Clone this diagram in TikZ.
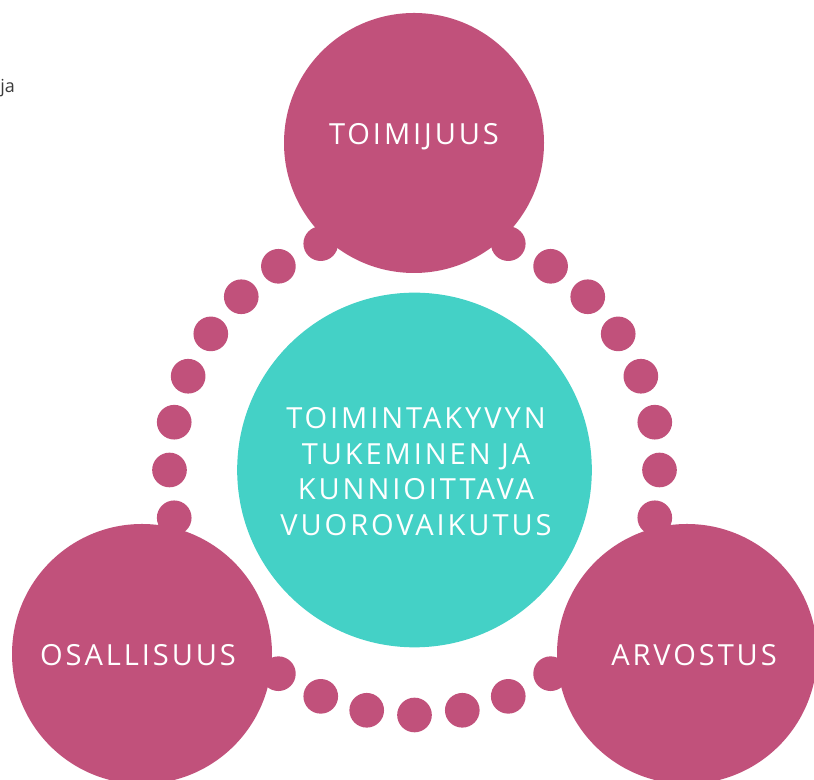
\documentclass[tikz,border=0pt]{standalone}
\usepackage{fontspec}
\setmainfont{Open Sans}
\newfontfamily\widefont[LetterSpace=10]{Open Sans}
\usetikzlibrary{positioning}
\definecolor{rosepink}{HTML}{C1517B}
\definecolor{aqua}{HTML}{44D1C6}
\definecolor{notegray}{HTML}{3A3A3A}
\tikzset{%
	theme circle/.style={
		circle,
		fill=rosepink,
		minimum size=195pt,
		inner sep=0pt
	},
	core circle/.style={
		circle,
		fill=aqua,
		minimum size=266pt,
		inner sep=0pt
	},
	bead/.style={
		circle,
		fill=rosepink,
		minimum size=26pt,
		inner sep=0pt
	},
	theme text/.style={
		text=white,
		inner sep=0pt,
		align=center,
		font=\widefont\fontsize{21.8}{26.6}\selectfont
	},
}

\begin{document}
\begin{tikzpicture}[x=0.75pt,y=0.75pt]
	\clip (0,0) rectangle (814,780);
	\useasboundingbox (0,0) rectangle (814,780);
	
	% centre of the ring
	\coordinate (hub) at (414.5,310);
	
	% beads on the left
	\foreach \a [count=\i] in {112.5,123.75,135,146.25,157.5,168.75,180,191.25}
		\path (hub) ++(\a:245) node[bead] (l\i) {};
	% beads at the bottom
	\foreach \a [count=\i] in {236.25,247.5,258.75,270,281.25,292.5,303.75}
		\path (hub) ++(\a:245) node[bead] (b\i) {};
	% beads on the right
	\foreach \a [count=\i] in {-11.25,0,11.25,22.5,33.75,45,56.25,67.5}
		\path (hub) ++(\a:245) node[bead] (r\i) {};
	
	% the three themes
	\node[theme circle] (top) at (414,637) {};
	\node[theme circle] (left) at (142,126) {};
	\node[theme circle] (right) at (687,126) {};
	
	% the core
	\node[core circle] (core) at (hub) {};
	
	% texts
	\node[theme text] (toimijuus) at (414,643) {TOIMIJUUS};
	\node[theme text] (osallisuus) at (138,124.5) {OSALLISUUS};
	\node[theme text] (arvostus) at (694,124.5) {ARVOSTUS};
	\node[theme text] (tukeminen) at (416,308.5) {TOIMINTAKYVYN\\TUKEMINEN JA\\KUNNIOITTAVA\\VUOROVAIKUTUS};
	
	\node[anchor=base west, inner sep=0pt, text=notegray, font=\fontsize{13.5}{15}\selectfont] (ja) at (0,687) {ja};
\end{tikzpicture}
\end{document}
